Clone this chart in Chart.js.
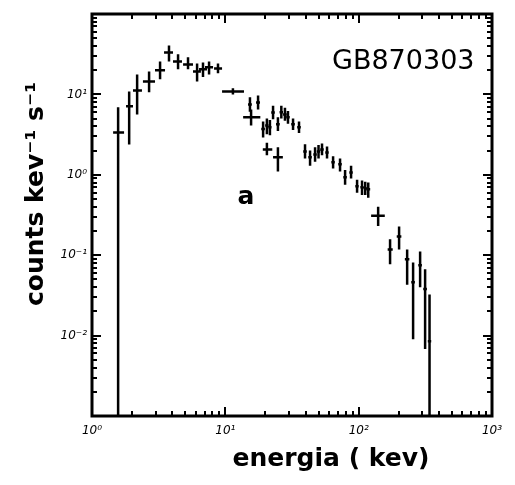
<!DOCTYPE html>
<html>
<head>
<meta charset="utf-8">
<script src="https://cdn.jsdelivr.net/npm/chart.js@4.4.1/dist/chart.umd.min.js"></script>
<style>
  html, body { margin: 0; padding: 0; background: #fff; }
</style>
</head>
<body>
<canvas id="spectrumChart" width="515" height="485"></canvas>
<script>
// spectrum of GB870303
const energy = [1.57, 1.90, 2.18, 2.68, 3.24, 3.78, 4.42, 5.25, 6.14, 6.80,
    7.55, 8.81, 11.4, 15.6, 15.3, 17.6, 19.2, 20.5, 21.6, 22.8,
    24.8, 26.3, 28.0, 29.5, 32.2, 35.7, 20.5, 24.8, 39.6, 43.2,
    47.1, 50.0, 53.1, 57.9, 64.3, 72.5, 79.1, 87.7, 97.3, 106,
    112, 118, 140, 172, 201, 231, 256, 289, 315, 340];
const energyLo = [1.44, 1.80, 2.03, 2.41, 2.97, 3.47, 4.05, 4.82, 5.72, 6.35,
    7.04, 8.23, 9.45, 13.6, 14.8, 17.0, 18.6, 19.9, 21.0, 22.1,
    24.0, 25.5, 27.1, 28.6, 31.2, 34.6, 19.1, 22.8, 38.4, 41.9,
    45.7, 48.5, 51.5, 56.2, 62.4, 70.3, 76.7, 85.1, 94.4, 103,
    109, 114, 124, 165, 193, 222, 248, 280, 305, 330];
const energyHi = [1.74, 2.03, 2.37, 2.97, 3.53, 4.05, 4.73, 5.72, 6.56, 7.29,
    8.09, 9.45, 13.8, 18.3, 15.8, 18.2, 19.8, 21.1, 22.2, 23.5,
    25.6, 27.1, 28.9, 30.4, 33.2, 36.8, 22.5, 27.0, 40.8, 44.5,
    48.5, 51.5, 54.7, 59.6, 66.2, 74.7, 81.5, 90.3, 100, 109,
    115, 122, 157, 180, 209, 240, 264, 298, 325, 350];
const counts = [3.37, 7.1, 11.2, 14.5, 19.9, 33.3, 25.7, 23.6, 19.3, 20.5,
    21.7, 21.0, 10.9, 5.18, 7.5, 7.95, 3.7, 4.1, 3.9, 5.97,
    4.24, 6.0, 5.64, 5.18, 4.24, 3.89, 2.07, 1.65, 1.95, 1.65,
    1.79, 1.95, 2.07, 1.90, 1.43, 1.35, 0.93, 1.07, 0.72, 0.70,
    0.68, 0.66, 0.31, 0.118, 0.171, 0.089, 0.046, 0.075, 0.038, 0.0085];
const countsLo = [0.001, 2.39, 5.64, 10.6, 15.4, 25.7, 20.5, 20.5, 14.5, 16.5,
    17.7, 18.3, 10.0, 4.1, 6.1, 6.5, 2.9, 3.2, 3.1, 4.9,
    3.5, 5.0, 4.7, 4.3, 3.6, 3.3, 1.75, 1.1, 1.6, 1.3,
    1.45, 1.6, 1.75, 1.6, 1.2, 1.1, 0.75, 0.9, 0.6, 0.56,
    0.56, 0.52, 0.23, 0.077, 0.118, 0.043, 0.009, 0.040, 0.0068, 0.001];
const countsHi = [6.9, 10.9, 17.7, 19.3, 25.7, 40.6, 31.5, 29.0, 24.3, 25.0,
    25.7, 24.3, 11.9, 6.5, 9.2, 9.7, 4.6, 5.0, 4.8, 7.2,
    5.2, 7.2, 6.8, 6.2, 5.0, 4.6, 2.5, 2.2, 2.4, 2.0,
    2.2, 2.35, 2.45, 2.25, 1.7, 1.6, 1.15, 1.3, 0.87, 0.85,
    0.82, 0.8, 0.40, 0.158, 0.228, 0.118, 0.081, 0.111, 0.067, 0.0325];

const xTickValues = [1, 10, 100, 1000];
const xTickLabels = ['10\u2070', '10\u00b9', '10\u00b2', '10\u00b3'];
const yTickValues = [0.01, 0.1, 1, 10];
const yTickLabels = ['10\u207b\u00b2', '10\u207b\u00b9', '10\u2070', '10\u00b9'];

const xTitle = 'energia ( kev)';
const yTitle = 'counts kev\u207b\u00b9 s\u207b\u00b9';
const burstName = 'GB870303';
const panelLabel = 'a';

// error bars as broken line segments (null breaks the line)
const vertSegments = [];
const horizSegments = [];
energy.forEach((e, i) => {
    vertSegments.push({x: e, y: countsLo[i]}, {x: e, y: countsHi[i]}, {x: e, y: null});
    horizSegments.push({x: energyLo[i], y: counts[i]}, {x: energyHi[i], y: counts[i]}, {x: energyHi[i], y: null});
});

// box, inward tick marks and the text labels
const frameAndText = {
    id: 'frameAndText',
    afterDraw(chart) {
        const ctx = chart.ctx;
        const area = chart.chartArea;
        const xs = chart.scales.x;
        const ys = chart.scales.y;
        ctx.save();
        ctx.strokeStyle = '#000';
        ctx.lineWidth = 3;
        ctx.strokeRect(area.left, area.top, area.right - area.left, area.bottom - area.top);

        ctx.lineWidth = 2;
        ctx.beginPath();
        for (let d = 0; d < 3; d++) {
            for (let m = 1; m <= 9; m++) {
                const v = m * Math.pow(10, d);
                if (v <= 1 || v >= 1000) continue;
                const px = Math.round(xs.getPixelForValue(v));
                const len = m === 1 ? 9 : 5;
                ctx.moveTo(px, area.bottom); ctx.lineTo(px, area.bottom - len);
                ctx.moveTo(px, area.top); ctx.lineTo(px, area.top + len);
            }
        }
        for (let d = -3; d < 2; d++) {
            for (let m = 1; m <= 9; m++) {
                const v = m * Math.pow(10, d);
                if (v <= 0.001 || v >= 100) continue;
                const py = Math.round(ys.getPixelForValue(v));
                const len = m === 1 ? 9 : 5;
                ctx.moveTo(area.left, py); ctx.lineTo(area.left + len, py);
                ctx.moveTo(area.right, py); ctx.lineTo(area.right - len, py);
            }
        }
        ctx.stroke();

        ctx.fillStyle = '#000';
        ctx.font = '27px "DejaVu Sans"';
        ctx.textAlign = 'left';
        ctx.textBaseline = 'middle';
        ctx.fillText(burstName, 332, 62);

        ctx.font = 'bold 25px "DejaVu Sans"';
        ctx.textAlign = 'center';
        ctx.fillText(panelLabel, 246, 197);
        ctx.fillText(xTitle, 331, 459);

        ctx.translate(43, 194);
        ctx.rotate(-Math.PI / 2);
        ctx.textBaseline = 'alphabetic';
        ctx.fillText(yTitle, 0, 0);
        ctx.restore();
    }
};

const ctx = document.getElementById('spectrumChart').getContext('2d');
new Chart(ctx, {
    type: 'scatter',
    data: {
        datasets: [{
            data: vertSegments,
            showLine: true,
            spanGaps: false,
            borderColor: '#000',
            borderWidth: 2.5,
            pointRadius: 0
        }, {
            data: horizSegments,
            showLine: true,
            spanGaps: false,
            borderColor: '#000',
            borderWidth: 2.5,
            pointRadius: 0
        }]
    },
    options: {
        responsive: false,
        devicePixelRatio: 1,
        animation: false,
        layout: { padding: { left: 0, right: 23, top: 14, bottom: 0 } },
        plugins: { legend: { display: false }, tooltip: { enabled: false } },
        scales: {
            x: {
                type: 'logarithmic',
                min: 1,
                max: 1000,
                grid: { display: false, drawTicks: false },
                border: { display: false },
                afterBuildTicks: (scale) => { scale.ticks = xTickValues.map(v => ({ value: v })); },
                afterFit: (scale) => { scale.height = 69; },
                ticks: {
                    autoSkip: false,
                    maxRotation: 0,
                    padding: 8,
                    color: '#000',
                    font: { family: 'DejaVu Sans', size: 12, style: 'italic' },
                    callback: (value, index) => xTickLabels[index]
                }
            },
            y: {
                type: 'logarithmic',
                min: 0.001,
                max: 100,
                grid: { display: false, drawTicks: false },
                border: { display: false },
                afterBuildTicks: (scale) => { scale.ticks = yTickValues.map(v => ({ value: v })); },
                afterFit: (scale) => { scale.width = 92; },
                ticks: {
                    autoSkip: false,
                    padding: 5,
                    color: '#000',
                    font: { family: 'DejaVu Sans', size: 12, style: 'italic' },
                    callback: (value, index) => yTickLabels[index]
                }
            }
        }
    },
    plugins: [frameAndText]
});
</script>
</body>
</html>
